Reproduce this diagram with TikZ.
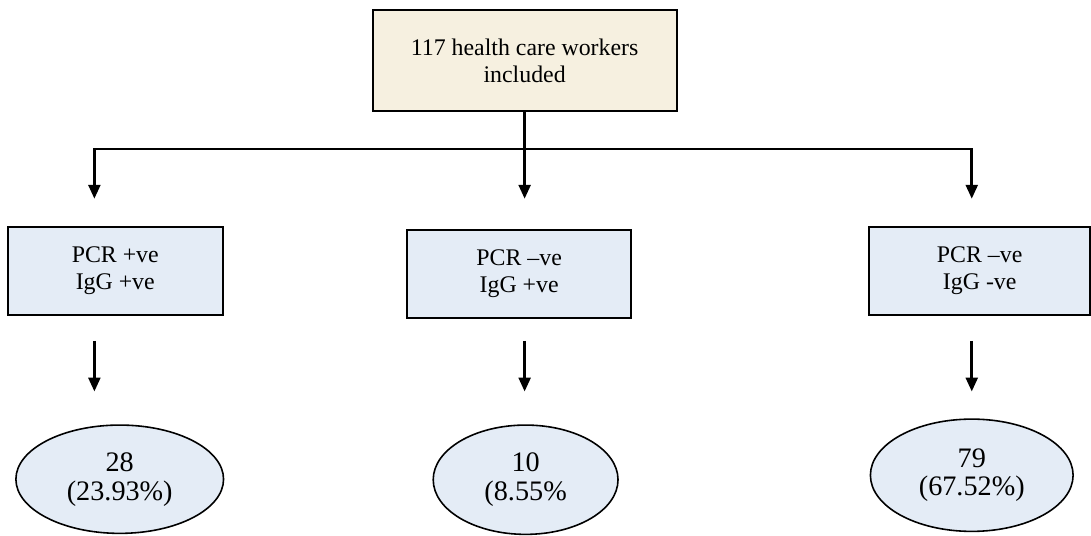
\documentclass[tikz,border=0pt]{standalone}
\usepackage{fontspec}
\setmainfont{Liberation Serif}
\usetikzlibrary{arrows.meta,positioning,shapes.geometric,calc}
\definecolor{creambox}{HTML}{F6F0E0}
\definecolor{paleblue}{HTML}{E4ECF6}

\begin{document}
\begin{tikzpicture}[
  start/.style={draw, line width=1pt, fill=creambox, minimum width=153pt,
                minimum height=51pt, align=center, inner sep=2pt,
                font=\fontsize{12}{13.5}\selectfont},
  group/.style={draw, line width=1pt, fill=paleblue, minimum width=108pt,
                minimum height=44.5pt, align=center, inner sep=2pt,
                font=\fontsize{12}{13.5}\selectfont},
  count/.style={draw, ellipse, line width=0.8pt, fill=paleblue, inner sep=0pt,
                align=center, font=\fontsize{14.2}{14.5}\selectfont},
  line/.style={line width=1.3pt},
  arr/.style={line, -{Triangle[length=7pt,width=6pt]}}
]

% Top
\node[start] (total) {117 health care workers\\included};

% Groups
\node[group, below left=57pt and 74.5pt of total] (pospos) {PCR +ve\\IgG +ve};
\node[group, minimum width=112.5pt, below=58.5pt of total, xshift=-2.75pt] (negpos) {PCR \textendash ve\\IgG +ve};
\node[group, minimum width=111pt, below right=57pt and 96pt of total] (negneg) {PCR \textendash ve\\IgG -ve};

% Counts
\node[count, minimum width=104.5pt, minimum height=54.5pt, below=54.5pt of pospos, xshift=2.25pt] (npospos) {28\\(23.93\%)};
\node[count, minimum width=93pt, minimum height=55pt, below=53pt of negpos, xshift=3.25pt] (nnegpos) {10\\(8.55\%};
\node[count, minimum width=102pt, minimum height=56.5pt, below=51.5pt of negneg, xshift=-4pt] (nnegneg) {79\\(67.52\%)};

\useasboundingbox ([shift={(-187pt,4.5pt)}]total.north west) rectangle ([shift={(358.5pt,-262pt)}]total.north west);

% Branch points
\coordinate (jm) at ([yshift=-18.5pt]total.south);
\coordinate (jl) at ($(pospos.north |- jm)+(-10.5pt,0)$);
\coordinate (jr) at ($(negneg.north |- jm)+(-4pt,0)$);

% Arrows - top to groups
\draw[line] (total.south) -- (jm);
\draw[arr, shorten >=13.5pt] (jm) -| (pospos.north -| jl);
\draw[arr, shorten >=15pt] (jm) -- (negpos.north -| jm);
\draw[arr, shorten >=13.5pt] (jm) -| (negneg.north -| jr);

% Arrows - groups to counts
\draw[arr, shorten <=12.5pt, shorten >=16.5pt] (pospos.south -| jl) -- (npospos.north -| jl);
\draw[arr, shorten <=11pt, shorten >=16.5pt] (negpos.south -| jm) -- (nnegpos.north -| jm);
\draw[arr, shorten <=12.5pt, shorten >=13.5pt] (negneg.south -| jr) -- (nnegneg.north -| jr);

\end{tikzpicture}
\end{document}
